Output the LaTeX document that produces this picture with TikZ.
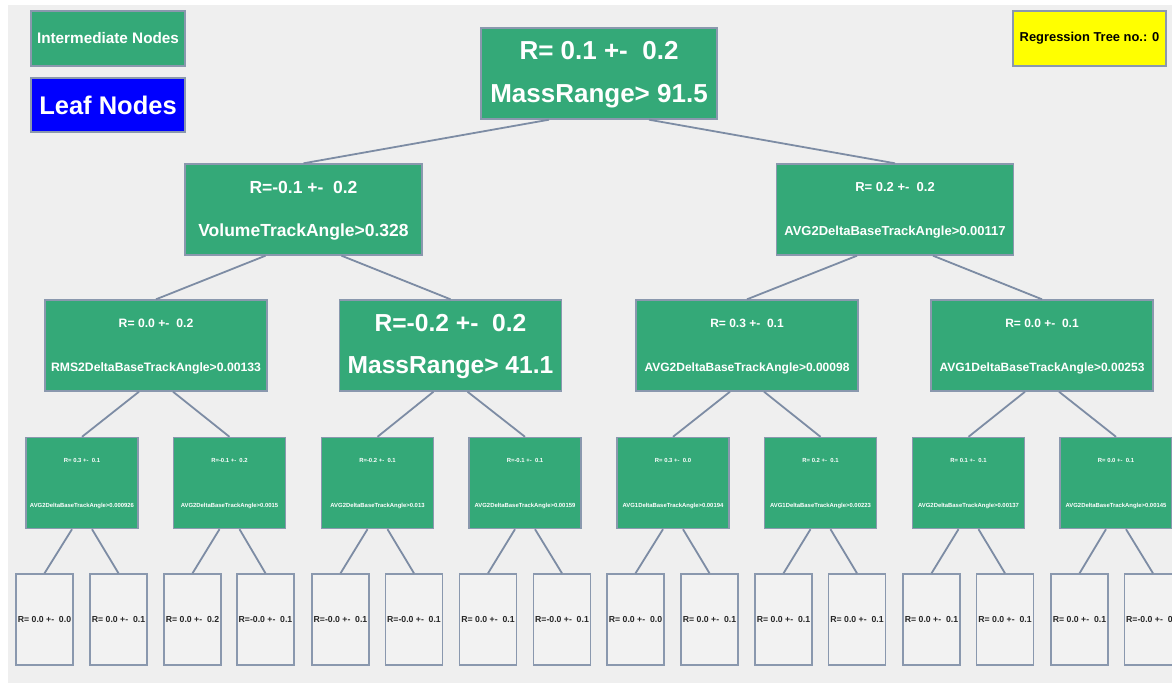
\documentclass[tikz,border=0pt]{standalone}
\usepackage{fontspec}
\setmainfont{Liberation Sans}
\definecolor{tgreen}{HTML}{34A978}
\definecolor{tborder}{HTML}{8A98AE}
\definecolor{tedge}{HTML}{7D8CA4}
\definecolor{tbg}{HTML}{EFEFEF}
\definecolor{tleaf}{HTML}{F2F2F2}
\definecolor{tblue}{HTML}{0000FF}
\definecolor{tyellow}{HTML}{FFFF00}
\tikzset{
  box/.style={draw=tborder, line width=1.4pt, inner sep=0pt, rectangle},
  inter/.style={box, fill=tgreen, minimum height=91pt},
  leafbox/.style={box, fill=tleaf, minimum width=57pt, minimum height=91pt},
  itext/.style={text=white, inner sep=0pt},
  ltext/.style={text=black!85, inner sep=0pt},
  conn/.style={draw=tedge, line width=1.8pt},
}
\newcommand\mkinode[7]{%
  \node[inter, minimum width=#4pt] (#1) at (#2,#3) {};
  \node[itext, font=\bfseries\fontsize{#5pt}{#5pt}\selectfont] (#1-a) at ([yshift=22.5pt]#1.center) {#6};
  \node[itext, font=\bfseries\fontsize{#5pt}{#5pt}\selectfont] (#1-b) at ([yshift=-22.5pt]#1.center) {#7};
}
\newcommand\mkleaf[3]{%
  \node[leafbox] (#1) at (#2,619.5) {};
  \node[ltext, font=\bfseries\fontsize{8.7pt}{8.7pt}\selectfont] (#1-t) at (#1.center) {#3};
}
\newcommand\mkedge[3]{\draw[conn] ([xshift=#3pt]#1.south) -- (#2.north);}
\begin{document}
\begin{tikzpicture}[x=1pt,y=-1pt]
\useasboundingbox (0,0) rectangle (1172,683);
\clip (0,0) rectangle (1172,683);
\fill[white] (0,0) rectangle (1172,683);
\fill[tbg] (8,5) rectangle (1172,683);

% legend
\node[box, fill=tgreen, minimum width=154pt, minimum height=55pt, text=white,
      font=\bfseries\fontsize{15.3pt}{15.3pt}\selectfont] (legInter) at (108,38.5) {Intermediate Nodes};
\node[box, fill=tblue, minimum width=154pt, minimum height=54pt, text=white,
      font=\bfseries\fontsize{25.5pt}{25.5pt}\selectfont] (legLeaf) at (108,105) {Leaf Nodes};
\node[box, fill=tyellow, minimum width=153pt, minimum height=55pt, text=black,
      font=\bfseries\fontsize{12.9pt}{12.9pt}\selectfont] (treeNo) at (1089.5,38.5) {Regression Tree no.: 0};

% root
\mkinode{root}{599}{73.5}{236}{26}{R= 0.1 +-\ \ 0.2}{MassRange> 91.5}
% level 1
\mkinode{a1}{303.5}{209.5}{237}{17.5}{R=-0.1 +-\ \ 0.2}{VolumeTrackAngle>0.328}
\mkinode{a2}{895}{209.5}{237}{13}{R= 0.2 +-\ \ 0.2}{AVG2DeltaBaseTrackAngle>0.00117}
% level 2
\mkinode{b1}{156}{345.5}{222}{12.2}{R= 0.0 +-\ \ 0.2}{RMS2DeltaBaseTrackAngle>0.00133}
\mkinode{b2}{450.5}{345.5}{222}{24.6}{R=-0.2 +-\ \ 0.2}{MassRange> 41.1}
\mkinode{b3}{747}{345.5}{222}{12}{R= 0.3 +-\ \ 0.1}{AVG2DeltaBaseTrackAngle>0.00098}
\mkinode{b4}{1042}{345.5}{222}{12}{R= 0.0 +-\ \ 0.1}{AVG1DeltaBaseTrackAngle>0.00253}
% level 3
\mkinode{c1}{82}{483}{112}{5.9}{R= 0.3 +-\ \ 0.1}{AVG2DeltaBaseTrackAngle>0.000926}
\mkinode{c2}{229.5}{483}{112}{5.9}{R=-0.1 +-\ \ 0.2}{AVG2DeltaBaseTrackAngle>0.0015}
\mkinode{c3}{377.5}{483}{112}{5.9}{R=-0.2 +-\ \ 0.1}{AVG2DeltaBaseTrackAngle>0.013}
\mkinode{c4}{525}{483}{112}{5.9}{R=-0.1 +-\ \ 0.1}{AVG2DeltaBaseTrackAngle>0.00159}
\mkinode{c5}{673}{483}{112}{5.9}{R= 0.3 +-\ \ 0.0}{AVG1DeltaBaseTrackAngle>0.00194}
\mkinode{c6}{820.5}{483}{112}{5.9}{R= 0.2 +-\ \ 0.1}{AVG1DeltaBaseTrackAngle>0.00223}
\mkinode{c7}{968.5}{483}{112}{5.9}{R= 0.1 +-\ \ 0.1}{AVG2DeltaBaseTrackAngle>0.00137}
\mkinode{c8}{1116}{483}{112}{5.9}{R= 0.0 +-\ \ 0.1}{AVG2DeltaBaseTrackAngle>0.00145}
% leaves
\mkleaf{d1}{44.5}{R= 0.0 +-\ \ 0.0}
\mkleaf{d2}{118.5}{R= 0.0 +-\ \ 0.1}
\mkleaf{d3}{192.5}{R= 0.0 +-\ \ 0.2}
\mkleaf{d4}{265.5}{R=-0.0 +-\ \ 0.1}
\mkleaf{d5}{340.5}{R=-0.0 +-\ \ 0.1}
\mkleaf{d6}{414}{R=-0.0 +-\ \ 0.1}
\mkleaf{d7}{488}{R= 0.0 +-\ \ 0.1}
\mkleaf{d8}{562}{R=-0.0 +-\ \ 0.1}
\mkleaf{d9}{635.5}{R= 0.0 +-\ \ 0.0}
\mkleaf{d10}{709.5}{R= 0.0 +-\ \ 0.1}
\mkleaf{d11}{783.5}{R= 0.0 +-\ \ 0.1}
\mkleaf{d12}{857}{R= 0.0 +-\ \ 0.1}
\mkleaf{d13}{931.5}{R= 0.0 +-\ \ 0.1}
\mkleaf{d14}{1005}{R= 0.0 +-\ \ 0.1}
\mkleaf{d15}{1079.5}{R= 0.0 +-\ \ 0.1}
\mkleaf{d16}{1153}{R=-0.0 +-\ \ 0.1}

% connectors
\mkedge{root}{a1}{-50}
\mkedge{root}{a2}{50}
\mkedge{a1}{b1}{-38}
\mkedge{a1}{b2}{38}
\mkedge{a2}{b3}{-38}
\mkedge{a2}{b4}{38}
\mkedge{b1}{c1}{-17}
\mkedge{b1}{c2}{17}
\mkedge{b2}{c3}{-17}
\mkedge{b2}{c4}{17}
\mkedge{b3}{c5}{-17}
\mkedge{b3}{c6}{17}
\mkedge{b4}{c7}{-17}
\mkedge{b4}{c8}{17}
\mkedge{c1}{d1}{-10}
\mkedge{c1}{d2}{10}
\mkedge{c2}{d3}{-10}
\mkedge{c2}{d4}{10}
\mkedge{c3}{d5}{-10}
\mkedge{c3}{d6}{10}
\mkedge{c4}{d7}{-10}
\mkedge{c4}{d8}{10}
\mkedge{c5}{d9}{-10}
\mkedge{c5}{d10}{10}
\mkedge{c6}{d11}{-10}
\mkedge{c6}{d12}{10}
\mkedge{c7}{d13}{-10}
\mkedge{c7}{d14}{10}
\mkedge{c8}{d15}{-10}
\mkedge{c8}{d16}{10}
\end{tikzpicture}
\end{document}
